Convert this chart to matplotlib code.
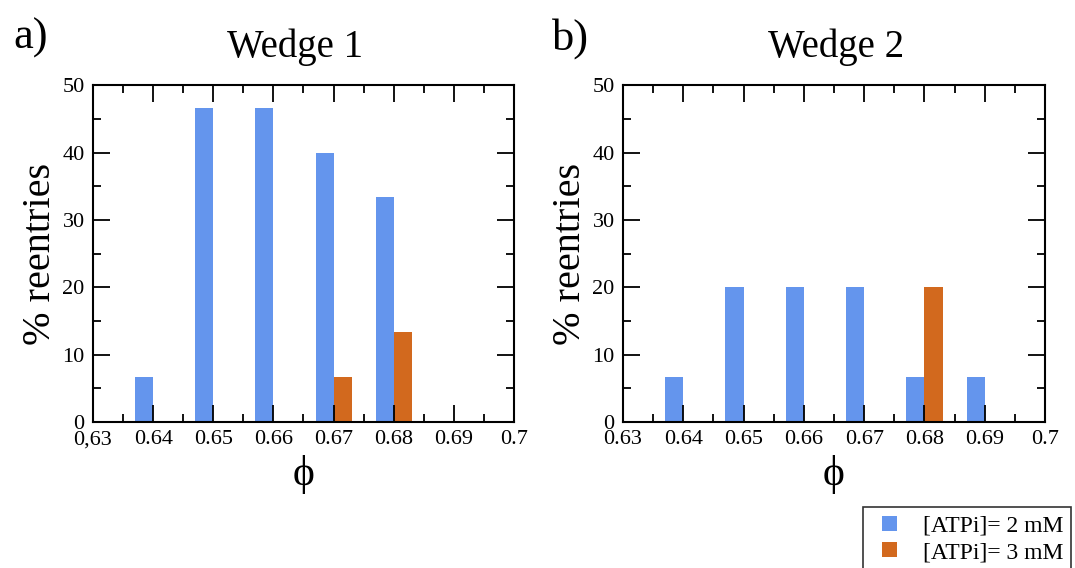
import numpy as np
import matplotlib
matplotlib.use("Agg")
import matplotlib.pyplot as plt
from matplotlib.patches import Patch, Rectangle
from matplotlib.legend_handler import HandlerPatch
from matplotlib.ticker import MultipleLocator

plt.rcParams['font.family'] = ['Liberation Serif', 'DejaVu Serif']

# data (% reentries per packing fraction)
phi_w1_2mM = [0.64, 0.65, 0.66, 0.67, 0.68]
pct_w1_2mM = [6.67, 46.67, 46.67, 40.0, 33.33]
phi_w1_3mM = [0.67, 0.68]
pct_w1_3mM = [6.67, 13.33]

phi_w2_2mM = [0.64, 0.65, 0.66, 0.67, 0.68, 0.69]
pct_w2_2mM = [6.67, 20.0, 20.0, 20.0, 6.67, 6.67]
phi_w2_3mM = [0.68]
pct_w2_3mM = [20.0]

xticks = [0.63, 0.64, 0.65, 0.66, 0.67, 0.68, 0.69, 0.70]
xlabels_a = ['0,63', '0.64', '0.65', '0.66', '0.67', '0.68', '0.69', '0.7']
xlabels_b = ['0.63', '0.64', '0.65', '0.66', '0.67', '0.68', '0.69', '0.7']
titles = ['Wedge 1', 'Wedge 2']
letters = ['a)', 'b)']

blue = '#6495ED'
orange = '#D2691E'
bw = 0.003


def small_square(legend, orig_handle, xdescent, ydescent, width, height, fontsize):
    s = 15 * 72 / 100.0  # square side in points
    cx = -xdescent + width / 2
    cy = -ydescent + height / 2
    return Rectangle((cx - s / 2, cy - s / 2), s, s)


fig = plt.figure(figsize=(10.75, 5.68), dpi=100)
ax1 = fig.add_axes([0.0865, 0.257, 0.3916, 0.593])
ax2 = fig.add_axes([0.5795, 0.257, 0.3926, 0.593])

panels = [
    (ax1, phi_w1_2mM, pct_w1_2mM, phi_w1_3mM, pct_w1_3mM, xlabels_a, 0.48),
    (ax2, phi_w2_2mM, pct_w2_2mM, phi_w2_3mM, pct_w2_3mM, xlabels_b, 0.505),
]

for i, (ax, x2, y2, x3, y3, xl, tx) in enumerate(panels):
    ax.bar(x2, y2, width=-bw, align='edge', color=blue, linewidth=0, zorder=1)
    ax.bar(x3, y3, width=bw, align='edge', color=orange, linewidth=0, zorder=1)
    ax.set_xlim(0.63, 0.70)
    ax.set_ylim(0, 50)
    ax.set_xticks(xticks)
    ax.set_xticklabels(xl)
    ax.xaxis.set_minor_locator(MultipleLocator(0.005))
    ax.yaxis.set_major_locator(MultipleLocator(10))
    ax.yaxis.set_minor_locator(MultipleLocator(5))
    ax.tick_params(which='both', direction='in', top=True, right=True,
                   width=1.3, labelsize=16, zorder=3)
    ax.tick_params(which='major', length=12, pad=6)
    ax.tick_params(which='minor', length=6)
    for s in ax.spines.values():
        s.set_linewidth(1.5)
        s.set_zorder(3)
    ax.set_title(titles[i], fontsize=28, pad=20, x=tx)
    ax.set_xlabel('ϕ', fontsize=30, labelpad=4)
    ax.set_ylabel('% reentries', fontsize=29, labelpad=2.5)

fig.text(0.012, 0.933, letters[0], fontsize=32, va='center', ha='left')
fig.text(0.513, 0.933, letters[1], fontsize=32, va='center', ha='left')

handles = [Patch(facecolor=blue, edgecolor='none', label='[ATPi]= 2 mM'),
           Patch(facecolor=orange, edgecolor='none', label='[ATPi]= 3 mM')]
leg = fig.legend(handles=handles, loc='lower right', bbox_to_anchor=(0.996, -0.004),
                 fontsize=17, frameon=True, fancybox=False, handlelength=1.6,
                 handleheight=0.8, handletextpad=0.65, borderpad=0.3,
                 labelspacing=0.2, borderaxespad=0,
                 handler_map={Patch: HandlerPatch(patch_func=small_square)})
leg.get_frame().set_edgecolor('black')
leg.get_frame().set_linewidth(1.2)

fig.savefig('out.png', dpi=100)
